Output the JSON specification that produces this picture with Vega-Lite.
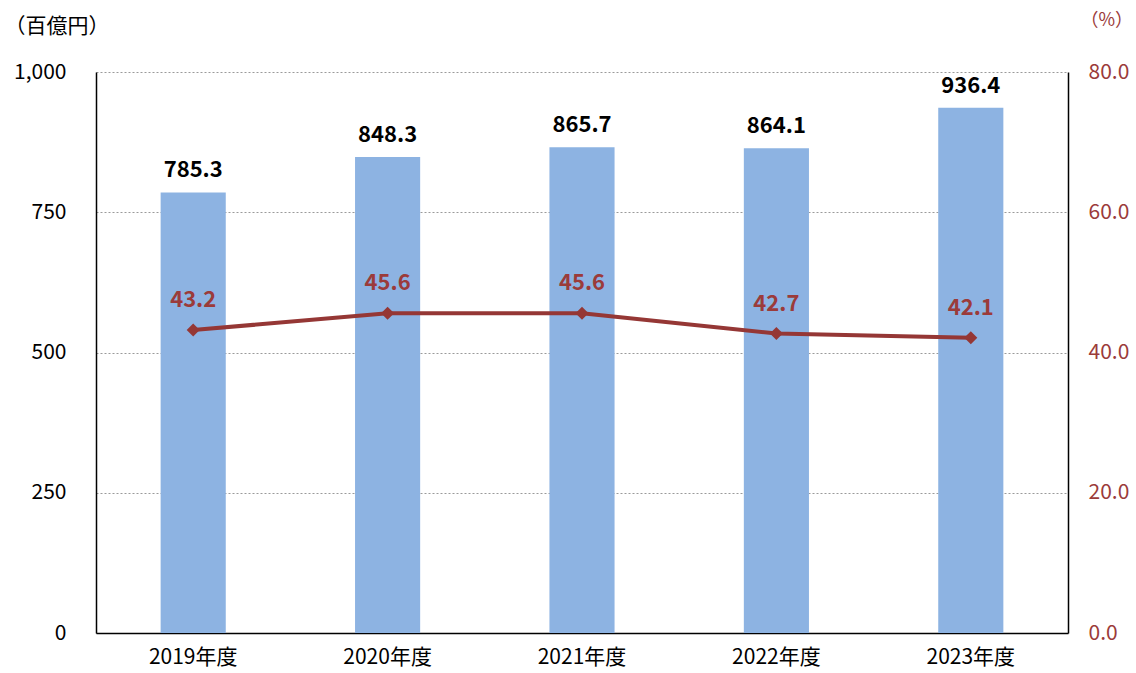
{
  "$schema": "https://vega.github.io/schema/vega-lite/v6.json",
  "width": 972,
  "height": 561,
  "autosize": {"type": "none"},
  "padding": {"left": 96, "top": 72, "right": 68, "bottom": 40},
  "background": "white",
  "config": {
    "view": {"stroke": null},
    "font": "Noto Sans CJK JP",
    "axis": {"labelFont": "Noto Sans CJK JP", "titleFont": "Noto Sans CJK JP"}
  },
  "data": {
    "values": [
      {"year": "2019年度", "amount": 785.3, "pct": 43.2},
      {"year": "2020年度", "amount": 848.3, "pct": 45.6},
      {"year": "2021年度", "amount": 865.7, "pct": 45.6},
      {"year": "2022年度", "amount": 864.1, "pct": 42.7},
      {"year": "2023年度", "amount": 936.4, "pct": 42.1}
    ]
  },
  "encoding": {
    "x": {
      "field": "year", "type": "nominal", "sort": null,
      "scale": {"paddingInner": 0.665, "paddingOuter": 0.3325},
      "axis": {
        "title": null, "labelAngle": 0, "ticks": false, "labelPadding": 13,
        "labelFontSize": 21, "labelColor": "#000", "domainColor": "#000", "domainWidth": 1.5
      }
    }
  },
  "layer": [
    {
      "encoding": {
        "y": {
          "field": "amount", "type": "quantitative",
          "scale": {"domain": [0, 1000], "nice": false},
          "axis": {
            "orient": "left", "values": [0, 250, 500, 750, 1000], "format": ",.0f",
            "ticks": false, "labelPadding": 30, "labelFontSize": 21, "labelColor": "#000",
            "domainColor": "#000", "domainWidth": 1.5,
            "grid": true, "gridDash": [2, 2], "gridColor": "#9a9a9a", "gridWidth": 1,
            "title": "（百億円）", "titleAngle": 0, "titleAlign": "left", "titleBaseline": "middle",
            "titleX": -92, "titleY": -46, "titleFontSize": 21, "titleFontWeight": "normal", "titleColor": "#000"
          }
        }
      },
      "layer": [
        {"mark": {"type": "bar", "color": "#8DB3E2"}},
        {
          "mark": {"type": "text", "dy": -22, "fontSize": 22, "fontWeight": "bold", "color": "#000"},
          "encoding": {"text": {"field": "amount", "type": "quantitative", "format": ".1f"}}
        }
      ]
    },
    {
      "encoding": {
        "y": {
          "field": "pct", "type": "quantitative",
          "scale": {"domain": [0, 80], "nice": false},
          "axis": {
            "orient": "right", "values": [0, 20, 40, 60, 80], "format": ".1f",
            "ticks": false, "labelPadding": 20, "labelFontSize": 21, "labelColor": "#9B3B3A",
            "domainColor": "#000", "domainWidth": 1.5, "grid": false,
            "title": "（%）", "titleAngle": 0, "titleAlign": "left", "titleBaseline": "middle",
            "titleX": 12, "titleY": -52, "titleFontSize": 18, "titleFontWeight": "normal", "titleColor": "#9B3B3A"
          }
        }
      },
      "layer": [
        {"mark": {"type": "line", "color": "#953735", "strokeWidth": 4}},
        {"mark": {"type": "point", "shape": "diamond", "filled": true, "size": 170, "color": "#953735", "opacity": 1}},
        {
          "mark": {"type": "text", "dy": -30, "fontSize": 22, "fontWeight": "bold", "color": "#9B3B3A"},
          "encoding": {"text": {"field": "pct", "type": "quantitative", "format": ".1f"}}
        }
      ]
    }
  ],
  "resolve": {"scale": {"y": "independent"}}
}
